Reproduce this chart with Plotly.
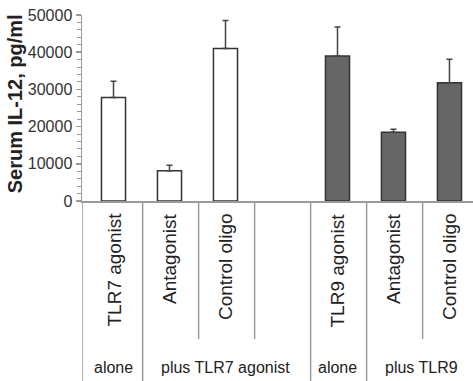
import plotly.graph_objects as go

categories = ["TLR7 agonist", "Antagonist", "Control oligo", "", "TLR9 agonist", "Antagonist", "Control oligo"]
values = [27800, 8100, 41000, None, 39000, 18500, 31800]
err_plus = [4400, 1500, 7500, None, 7800, 800, 6300]
bar_colors = ["white", "white", "white", "white", "#666666", "#666666", "#666666"]
groups = ["alone", "plus TLR7 agonist", "alone", "plus TLR9"]
group_spans = [(0, 0), (1, 3), (4, 4), (5, 6)]
y_ticks = [0, 10000, 20000, 30000, 40000, 50000]

FONT = "Arial, Liberation Sans, sans-serif"
LINE_GRAY = "#9a9a9a"

xs = list(range(len(categories)))

fig = go.Figure()
fig.add_trace(go.Bar(
    x=xs, y=values, width=0.43,
    marker=dict(color=bar_colors, line=dict(color="#333333", width=1.5)),
    error_y=dict(type="data", symmetric=False, array=err_plus,
                 arrayminus=[0] * len(values), color="#444444",
                 thickness=1.5, width=3),
    showlegend=False,
    hoverinfo="skip",
))

x0 = -0.5625
x1 = 6.42
PLOT_H = 186
full_bottom = -180 / PLOT_H
short_bottom = -138 / PLOT_H

shapes = []
shapes.append(dict(type="line", xref="x", yref="paper", x0=x0, x1=x0, y0=0, y1=full_bottom,
                   line=dict(color=LINE_GRAY, width=1.5)))
group_bounds = set(e for s, e in group_spans)
for i in range(len(categories) - 1):
    xb = i + 0.52
    bottom = full_bottom if i in group_bounds else short_bottom
    shapes.append(dict(type="line", xref="x", yref="paper", x0=xb, x1=xb, y0=0, y1=bottom,
                       line=dict(color=LINE_GRAY, width=1.5)))

annotations = []
for i, c in enumerate(categories):
    if c:
        annotations.append(dict(x=i, y=0, xref="x", yref="paper", text=c, textangle=-90,
                                showarrow=False, xanchor="center", yanchor="top", yshift=-10,
                                font=dict(family=FONT, size=19, color="#222222")))
for g, (s, e) in zip(groups, group_spans):
    annotations.append(dict(x=(s + e) / 2, y=-166 / PLOT_H, xref="x", yref="paper", text=g,
                            showarrow=False, xanchor="center", yanchor="middle",
                            font=dict(family=FONT, size=16, color="#222222")))
annotations.append(dict(x=0, y=0.52, xref="paper", yref="paper", text="<b>Serum IL-12, pg/ml</b>",
                        textangle=-90, showarrow=False, xanchor="center", yanchor="middle",
                        xshift=-67, font=dict(family=FONT, size=20, color="#222222")))

fig.update_layout(
    width=473, height=381,
    margin=dict(l=82, r=0, t=15, b=180),
    paper_bgcolor="white", plot_bgcolor="white",
    shapes=shapes, annotations=annotations,
    bargap=0,
    xaxis=dict(range=[x0, x1], showticklabels=False, ticks="", showgrid=False, zeroline=False,
               showline=True, linecolor=LINE_GRAY, linewidth=1.5),
    yaxis=dict(range=[0, 50000], tickvals=y_ticks, ticktext=[str(v) for v in y_ticks],
               ticks="outside", ticklen=5, tickcolor=LINE_GRAY, tickwidth=1.5,
               ticklabeloverflow="allow",
               minor=dict(dtick=2000, ticks="outside", ticklen=4, tickcolor=LINE_GRAY, tickwidth=1),
               showgrid=False, zeroline=False, showline=True, linecolor=LINE_GRAY, linewidth=1.5,
               tickfont=dict(family=FONT, size=16, color="#333333")),
)

fig.write_html("out.html", config={"displayModeBar": False, "staticPlot": True},
               post_script="document.body.style.margin='0';document.body.style.overflow='hidden';")
